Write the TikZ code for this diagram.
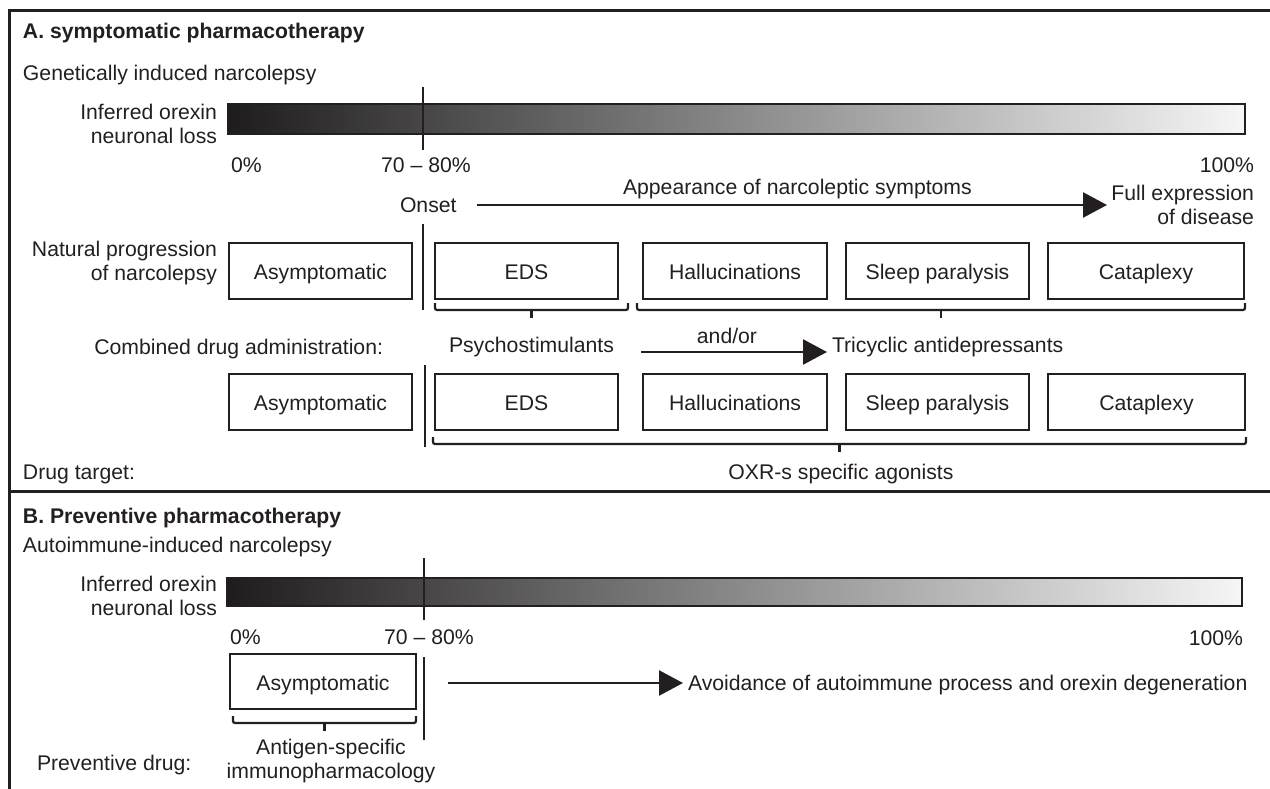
\documentclass[tikz,border=0pt]{standalone}
\usepackage{fontspec}
\setmainfont{Liberation Sans}
\usetikzlibrary{arrows.meta}
\definecolor{ink}{RGB}{35,31,32}
\definecolor{barL}{RGB}{30,28,29}
\definecolor{barR}{RGB}{246,246,246}
\begin{document}
\begin{tikzpicture}[x=1pt,y=-1pt,
  every node/.style={inner sep=0pt, outer sep=0pt, text=ink, font=\fontsize{21.2}{24}\selectfont},
  title/.style={font=\fontsize{21.2}{24}\selectfont\bfseries, anchor=base west},
  stagebox/.style={draw=ink, line width=2.5pt, minimum height=56pt, anchor=north west, text height=19pt, text depth=2pt},
  lossbar/.style={draw=ink, line width=2.6pt, left color=barL, right color=barR, anchor=north west},
  marker/.style={draw=ink, line width=2.5pt},
  framel/.style={draw=ink, line width=3pt},
  bracel/.style={draw=ink, line width=2.2pt, rounded corners=2pt},
  arr/.style={draw=ink, line width=2.5pt, -{Triangle[length=24pt, width=25pt]}},
  multi/.style={align=right, anchor=east},
]
\useasboundingbox (0,0) rectangle (1270,789);
% frame
\draw[framel] (9,789) -- (9,11) -- (1270,11);
\draw[framel] (9,491) -- (1270,491);

%%%%%%%%%%%%%%%% Panel A
\node[title] (tA) at (23,39) {A. symptomatic pharmacotherapy};
\node[anchor=base west] (sA) at (23,81) {Genetically induced narcolepsy};
\node[multi] (lossA) at (217,124) {Inferred orexin\\neuronal loss};
\node[lossbar, minimum width=1017pt, minimum height=30pt] (barA) at (228,104) {};
\draw[marker] (423,87) -- (423,150);
\node[anchor=base west] (p0A) at (231,173) {0\%};
\node[anchor=base] (p70A) at (426,173) {70 – 80\%};
\node[anchor=base east] (p100A) at (1254,173) {100\%};

\node[anchor=base west] (onset) at (400,212) {Onset};
\node[anchor=base west] (appear) at (623,195) {Appearance of narcoleptic symptoms};
\node[multi] (fullexp) at (1254,205) {Full expression\\of disease};
\coordinate (a1s) at (477,205);
\coordinate (a1e) at (1107,205);
\draw[arr] (a1s) -- (a1e);

\draw[marker] (423,224) -- (423,310);
\node[multi] (natprog) at (217,263) {Natural progression\\of narcolepsy};
\node[stagebox, minimum width=183pt] (r1a) at (229,243) {Asymptomatic};
\node[stagebox, minimum width=183pt] (r1b) at (435,243) {EDS};
\node[stagebox, minimum width=184pt] (r1c) at (643,243) {Hallucinations};
\node[stagebox, minimum width=183pt] (r1d) at (846,243) {Sleep paralysis};
\node[stagebox, minimum width=196pt] (r1e) at (1048,243) {Cataplexy};

\draw[bracel] (435,303) -- (435,310) -- (628,310) -- (628,303);
\draw[bracel] (531.5,310) -- (531.5,318);
\draw[bracel] (637,303) -- (637,310) -- (1245,310) -- (1245,303);
\draw[bracel] (941,310) -- (941,318);

\node[anchor=base east] (combined) at (383,354) {Combined drug administration:};
\node[anchor=base west] (psycho) at (449,352) {Psychostimulants};
\node[anchor=base] (andor) at (727,343) {and/or};
\node[anchor=base west] (tricyc) at (832,352) {Tricyclic antidepressants};
\coordinate (a2s) at (641,352);
\coordinate (a2e) at (827,352);
\draw[arr] (a2s) -- (a2e);

\draw[marker] (425,365) -- (425,447);
\node[stagebox, minimum width=183pt] (r2a) at (229,374) {Asymptomatic};
\node[stagebox, minimum width=183pt] (r2b) at (435,374) {EDS};
\node[stagebox, minimum width=184pt] (r2c) at (643,374) {Hallucinations};
\node[stagebox, minimum width=183pt] (r2d) at (846,374) {Sleep paralysis};
\node[stagebox, minimum width=197pt] (r2e) at (1048,374) {Cataplexy};

\draw[bracel] (433,437) -- (433,444) -- (1246,444) -- (1246,437);
\draw[bracel] (839.5,444) -- (839.5,452);
\node[anchor=base west] (target) at (23,479) {Drug target:};
\node[anchor=base] (oxr) at (841,479) {OXR-s specific agonists};

%%%%%%%%%%%%%%%% Panel B
\node[title] (tB) at (23,523) {B. Preventive pharmacotherapy};
\node[anchor=base west] (sB) at (23,552) {Autoimmune-induced narcolepsy};
\node[multi] (lossB) at (217,596) {Inferred orexin\\neuronal loss};
\node[lossbar, minimum width=1015pt, minimum height=28pt] (barB) at (227,578) {};
\draw[marker] (424,558) -- (424,620);
\node[anchor=base west] (p0B) at (230,644) {0\%};
\node[anchor=base] (p70B) at (429,644) {70 – 80\%};
\node[anchor=base east] (p100B) at (1243,645) {100\%};

\node[stagebox, minimum width=186pt, minimum height=55pt] (bA) at (230,654) {Asymptomatic};
\draw[marker] (424,657) -- (424,740);
\coordinate (a3s) at (448,683);
\coordinate (a3e) at (683,683);
\draw[arr] (a3s) -- (a3e);
\node[anchor=base west] (avoid) at (688,690) {Avoidance of autoimmune process and orexin degeneration};

\draw[bracel] (233,716) -- (233,723) -- (416,723) -- (416,716);
\draw[bracel] (324.5,723) -- (324.5,731);
\node[align=center, anchor=center] (antigen) at (331,761) {Antigen-specific\\immunopharmacology};
\node[anchor=base west] (prevdrug) at (37,770) {Preventive drug:};
\end{tikzpicture}
\end{document}
